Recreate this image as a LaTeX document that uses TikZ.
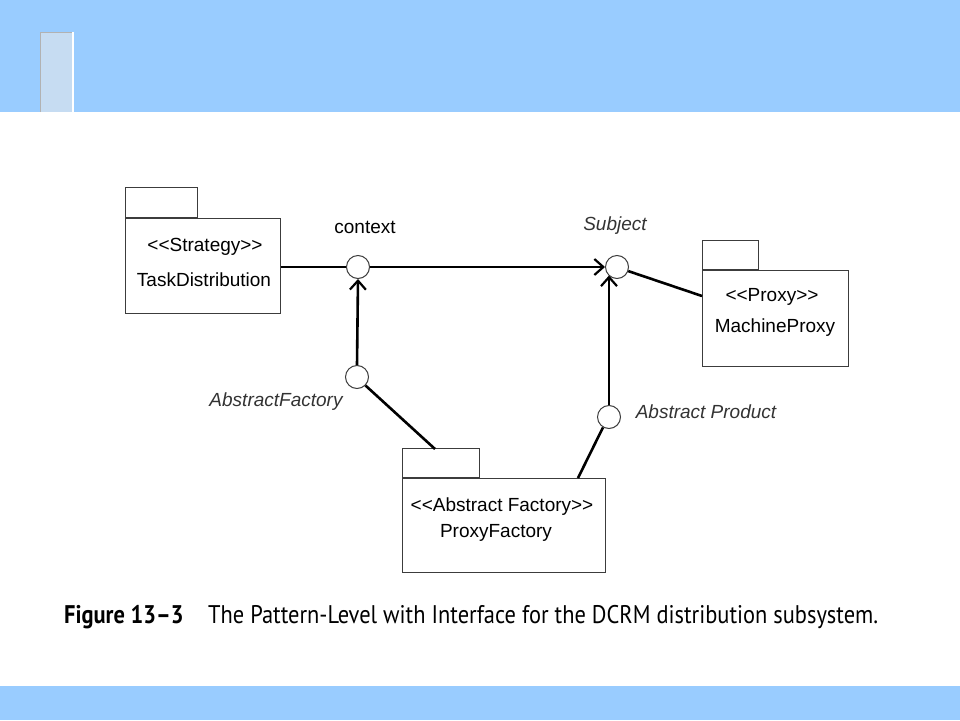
\documentclass[tikz,border=0pt]{standalone}
\usepackage{fontspec}
\setmainfont{Liberation Sans}
\newfontfamily\capfont[FakeStretch=0.88]{PT Sans}
\usetikzlibrary{arrows.meta,positioning}

\definecolor{band}{RGB}{153,204,255}
\definecolor{tabblue}{RGB}{198,220,242}
\definecolor{boxline}{RGB}{60,60,60}

% stereotype in plain angle brackets
\newcommand{\stereo}[1]{<\kern0pt<#1>\kern0pt>}

\tikzset{
  pkg/.style={draw=boxline, line width=1.3pt, fill=white, inner sep=0pt},
  pkgtab/.style={pkg, anchor=south west},
  pkgtext/.style={font=\fontsize{19}{22}\selectfont, inner sep=0pt},
  lolli/.style={circle, draw=boxline, line width=1pt, fill=white, minimum size=23pt, inner sep=0pt},
  iname/.style={font=\fontsize{19}{22}\selectfont\itshape, text=black!80, inner sep=0pt},
  conn/.style={line width=2.6pt},
  dep/.style={conn, -{Straight Barb[length=9pt,width=16pt,line width=2.2pt]}},
  captext/.style={font=\capfont\fontsize{25.5}{30}\selectfont, anchor=base west, inner sep=0pt}
}

\begin{document}
\begin{tikzpicture}[x=1pt,y=-1pt]
\useasboundingbox (0,0) rectangle (960,720);

% slide frame
\fill[band] (0,0) rectangle (960,112);
\fill[band] (0,686) rectangle (960,720);
\fill[tabblue] (40,32) rectangle (73,112);
\draw[black!30, line width=1.2pt] (40.5,112) -- (40.5,32.5) -- (73,32.5);
\draw[white, line width=1.2pt] (73,32) -- (73,112);

% packages
\node[pkg, minimum width=155pt, minimum height=95pt, anchor=north west] (td) at (125,218) {};
\node[pkgtab, minimum width=72pt, minimum height=30pt] (tdtab) at (td.north west) {};
\node[pkgtext] (tdst) at (205,247) {\stereo{Strategy}};
\node[pkgtext] (tdname) at (204,280) {TaskDistribution};

\node[pkg, minimum width=146pt, minimum height=96pt, anchor=north west] (mp) at (702,270) {};
\node[pkgtab, minimum width=56pt, minimum height=29pt] (mptab) at (mp.north west) {};
\node[pkgtext] (mpst) at (772,297) {\stereo{Proxy}};
\node[pkgtext] (mpname) at (775,328) {MachineProxy};

\node[pkg, minimum width=203pt, minimum height=94pt, anchor=north west] (pf) at (402,478) {};
\node[pkgtab, minimum width=77pt, minimum height=29pt] (pftab) at (pf.north west) {};
\node[pkgtext] (pfst) at (502,507) {\stereo{Abstract Factory}};
\node[pkgtext] (pfname) at (496,533) {ProxyFactory};

% interfaces
\node[lolli] (ctx) at (358,267) {};
\node[pkgtext] (ctxlbl) at (365,227) {context};
\node[lolli] (subj) at (617,267) {};
\node[iname] (subjlbl) at (615,226) {Subject};
\node[lolli] (af) at (357,377) {};
\node[iname] (aflbl) at (276,402) {AbstractFactory};
\node[lolli] (ap) at (609,417) {};
\node[iname] (aplbl) at (706,412) {Abstract Product};

\coordinate (tdout) at (td.east |- ctx);
\coordinate (pfin) at (435,449);
\coordinate (pfout) at (578,478);
\coordinate (mpin) at (702,296);

% connectors
\draw[conn] (tdout) -- (ctx.west);
\draw[dep] (ctx.east) -- (subj.west);
\draw[dep] (af.north) -- (ctx.south);
\draw[conn] (af.south east) -- (pfin);
\draw[dep] (ap.north) -- (ap.north |- subj.-135);
\draw[conn] (ap.-120) -- (pfout);
\draw[conn] (subj.-20) -- (mpin);

% caption
\node[captext, font=\capfont\bfseries\fontsize{25.5}{30}\selectfont] (capnum) at (64,623) {Figure 13–3};
\node[captext] (captxt) at (208,623) {The Pattern-Level with Interface for the DCRM distribution subsystem.};
\end{tikzpicture}
\end{document}
